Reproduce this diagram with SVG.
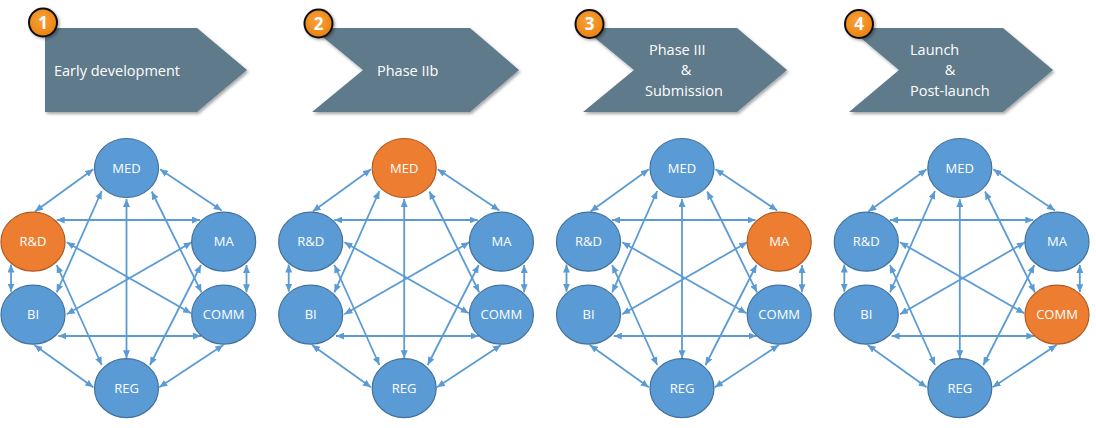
<svg xmlns="http://www.w3.org/2000/svg" xmlns:xlink="http://www.w3.org/1999/xlink" width="1096" height="428" viewBox="0 0 1096 428">
<defs>
<style>
.chev{fill:#5E7A8B;filter:url(#sh)}
.htxt{font-family:"Open Sans","DejaVu Sans",sans-serif;font-size:14.5px;fill:#FFFFFF}
.badge{fill:url(#bg);stroke:#111111;stroke-width:2;filter:url(#sh2)}
.btxt{font-family:"Open Sans","DejaVu Sans",sans-serif;font-size:17px;font-weight:bold;fill:#FFFFFF;text-anchor:middle}
.nb{fill:#5B9BD5;stroke:#41719C;stroke-width:1.2}
.no{fill:#ED7D31;stroke:#AE5A21;stroke-width:1.2}
.ntxt{font-family:"Open Sans","DejaVu Sans",sans-serif;font-size:13px;fill:#FFFFFF;text-anchor:middle}
.edge{fill:none;stroke:#5B9BD5;stroke-width:1.8;marker-start:url(#ah);marker-end:url(#ah)}
</style>
<marker id="ah" viewBox="0 0 8 7" refX="8" refY="3.5" markerWidth="8" markerHeight="7" markerUnits="userSpaceOnUse" orient="auto-start-reverse">
<path d="M0,0 L8,3.5 L0,7 z" fill="#5B9BD5"/>
</marker>
<radialGradient id="bg" cx="0.45" cy="0.4" r="0.65">
<stop offset="0" stop-color="#F9A23A"/>
<stop offset="1" stop-color="#E8800E"/>
</radialGradient>
<filter id="sh" x="-10%" y="-10%" width="125%" height="130%">
<feDropShadow dx="1.5" dy="2" stdDeviation="1.5" flood-color="#000000" flood-opacity="0.35"/>
</filter>
<filter id="sh2" x="-30%" y="-30%" width="170%" height="170%">
<feDropShadow dx="1.5" dy="1.5" stdDeviation="1.5" flood-color="#000000" flood-opacity="0.35"/>
</filter>
<g id="edges">
<path class="edge" d="M93.3,169.3 L35,211.5"/>
<path class="edge" d="M160,169.3 L221.7,210.5"/>
<path class="edge" d="M101.7,191 L56.7,292.3"/>
<path class="edge" d="M151.7,191.5 L201.5,292.3"/>
<path class="edge" d="M126.5,199 L126.5,358.3"/>
<path class="edge" d="M56.7,220 L200,220"/>
<path class="edge" d="M11,264.5 L11,291.7"/>
<path class="edge" d="M66.7,242.3 L191,313.3"/>
<path class="edge" d="M56.7,265 L101.7,365"/>
<path class="edge" d="M191.7,242.3 L66.7,314.3"/>
<path class="edge" d="M246.5,265 L246.5,292.3"/>
<path class="edge" d="M201,265 L150,365"/>
<path class="edge" d="M58.3,336 L201,336"/>
<path class="edge" d="M34.3,345 L93.3,387.3"/>
<path class="edge" d="M223.3,345 L159.3,387.3"/>
</g>
</defs>
<rect width="1096" height="428" fill="#FFFFFF"/>

<!-- Headers -->
<g id="phase1">
<polygon class="chev" points="45,28 197,28 247,70 197,112 45,112"/>
<text class="htxt" x="54" y="76">Early development</text>
<circle class="badge" cx="43" cy="22.5" r="14"/>
<text class="btxt" x="43" y="28.5" font-size="15">1</text>
</g>
<g id="phase2">
<polygon class="chev" points="312,28 470,28 519,70 470,112 312,112 363,70"/>
<text class="htxt" x="377" y="76">Phase IIb</text>
<circle class="badge" cx="318.5" cy="23.5" r="14"/>
<text class="btxt" x="318.5" y="29.5">2</text>
</g>
<g id="phase3">
<polygon class="chev" points="583,28 737,28 787,70 737,112 583,112 634,70"/>
<text class="htxt" x="649" y="55">Phase III</text>
<text class="htxt" x="686" y="75" text-anchor="middle">&amp;</text>
<text class="htxt" x="645" y="96">Submission</text>
<circle class="badge" cx="589.5" cy="24" r="14"/>
<text class="btxt" x="589.5" y="30">3</text>
</g>
<g id="phase4">
<polygon class="chev" points="849,28 1003,28 1053,70 1003,112 849,112 899,70"/>
<text class="htxt" x="910" y="55">Launch</text>
<text class="htxt" x="950" y="75" text-anchor="middle">&amp;</text>
<text class="htxt" x="910" y="96">Post-launch</text>
<circle class="badge" cx="859" cy="24" r="14"/>
<text class="btxt" x="859" y="30">4</text>
</g>

<!-- Connectors -->
<g id="connectors">
<use xlink:href="#edges" href="#edges"/>
<use xlink:href="#edges" href="#edges" transform="translate(277.7,0)"/>
<use xlink:href="#edges" href="#edges" transform="translate(555.5,0)"/>
<use xlink:href="#edges" href="#edges" transform="translate(833.3,0)"/>
</g>

<!-- Panel 1 nodes -->
<g id="p1-med"><ellipse class="nb" cx="126.5" cy="168" rx="32" ry="29.5"/><text class="ntxt" x="126.5" y="172.5">MED</text></g>
<g id="p1-rd"><ellipse class="no" cx="33" cy="241.7" rx="32" ry="29.5"/><text class="ntxt" x="33" y="246.2">R&amp;D</text></g>
<g id="p1-ma"><ellipse class="nb" cx="223.7" cy="241.7" rx="32" ry="29.5"/><text class="ntxt" x="223.7" y="246.2">MA</text></g>
<g id="p1-bi"><ellipse class="nb" cx="33" cy="314.7" rx="32" ry="29.5"/><text class="ntxt" x="33" y="319.2">BI</text></g>
<g id="p1-comm"><ellipse class="nb" cx="223.7" cy="314.7" rx="32" ry="29.5"/><text class="ntxt" x="223.7" y="319.2">COMM</text></g>
<g id="p1-reg"><ellipse class="nb" cx="126.5" cy="388.2" rx="32" ry="29.5"/><text class="ntxt" x="126.5" y="392.7">REG</text></g>

<!-- Panel 2 nodes -->
<g id="p2-med"><ellipse class="no" cx="404.2" cy="168" rx="32" ry="29.5"/><text class="ntxt" x="404.2" y="172.5">MED</text></g>
<g id="p2-rd"><ellipse class="nb" cx="310.7" cy="241.7" rx="32" ry="29.5"/><text class="ntxt" x="310.7" y="246.2">R&amp;D</text></g>
<g id="p2-ma"><ellipse class="nb" cx="501.4" cy="241.7" rx="32" ry="29.5"/><text class="ntxt" x="501.4" y="246.2">MA</text></g>
<g id="p2-bi"><ellipse class="nb" cx="310.7" cy="314.7" rx="32" ry="29.5"/><text class="ntxt" x="310.7" y="319.2">BI</text></g>
<g id="p2-comm"><ellipse class="nb" cx="501.4" cy="314.7" rx="32" ry="29.5"/><text class="ntxt" x="501.4" y="319.2">COMM</text></g>
<g id="p2-reg"><ellipse class="nb" cx="404.2" cy="388.2" rx="32" ry="29.5"/><text class="ntxt" x="404.2" y="392.7">REG</text></g>

<!-- Panel 3 nodes -->
<g id="p3-med"><ellipse class="nb" cx="682" cy="168" rx="32" ry="29.5"/><text class="ntxt" x="682" y="172.5">MED</text></g>
<g id="p3-rd"><ellipse class="nb" cx="588.5" cy="241.7" rx="32" ry="29.5"/><text class="ntxt" x="588.5" y="246.2">R&amp;D</text></g>
<g id="p3-ma"><ellipse class="no" cx="779.2" cy="241.7" rx="32" ry="29.5"/><text class="ntxt" x="779.2" y="246.2">MA</text></g>
<g id="p3-bi"><ellipse class="nb" cx="588.5" cy="314.7" rx="32" ry="29.5"/><text class="ntxt" x="588.5" y="319.2">BI</text></g>
<g id="p3-comm"><ellipse class="nb" cx="779.2" cy="314.7" rx="32" ry="29.5"/><text class="ntxt" x="779.2" y="319.2">COMM</text></g>
<g id="p3-reg"><ellipse class="nb" cx="682" cy="388.2" rx="32" ry="29.5"/><text class="ntxt" x="682" y="392.7">REG</text></g>

<!-- Panel 4 nodes -->
<g id="p4-med"><ellipse class="nb" cx="959.8" cy="168" rx="32" ry="29.5"/><text class="ntxt" x="959.8" y="172.5">MED</text></g>
<g id="p4-rd"><ellipse class="nb" cx="866.3" cy="241.7" rx="32" ry="29.5"/><text class="ntxt" x="866.3" y="246.2">R&amp;D</text></g>
<g id="p4-ma"><ellipse class="nb" cx="1057" cy="241.7" rx="32" ry="29.5"/><text class="ntxt" x="1057" y="246.2">MA</text></g>
<g id="p4-bi"><ellipse class="nb" cx="866.3" cy="314.7" rx="32" ry="29.5"/><text class="ntxt" x="866.3" y="319.2">BI</text></g>
<g id="p4-comm"><ellipse class="no" cx="1057" cy="314.7" rx="32" ry="29.5"/><text class="ntxt" x="1057" y="319.2">COMM</text></g>
<g id="p4-reg"><ellipse class="nb" cx="959.8" cy="388.2" rx="32" ry="29.5"/><text class="ntxt" x="959.8" y="392.7">REG</text></g>
</svg>
